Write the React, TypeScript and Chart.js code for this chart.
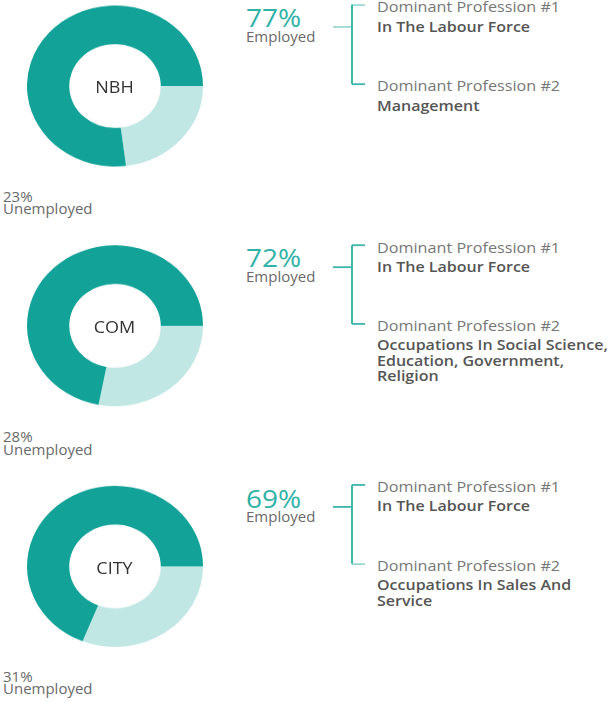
import React, { useEffect, useRef } from "react";
import { Chart, registerables } from "chart.js";

Chart.register(...registerables);

// ---- data ----
const regions = ["NBH", "COM", "CITY"];
const employedPct = [77, 72, 69];
const unemployedPct = [23, 28, 31];
const sliceLabels = ["Unemployed", "Employed"];
const profession1Title = "Dominant Profession #1";
const profession2Title = "Dominant Profession #2";
const profession1 = ["In The Labour Force", "In The Labour Force", "In The Labour Force"];
const profession2 = [
  ["Management"],
  ["Occupations In Social Science,", "Education, Government,", "Religion"],
  ["Occupations In Sales And", "Service"],
];

// ---- style ----
const DARK = "#13a298";
const LIGHT = "#c1e7e5";
const TEAL_TEXT = "#2fb2a8";
const LINE = "#3db6ac";
const GRAY = "#6a6a6a";
const GRAY_LIGHT = "#777777";
const GRAY_DARK = "#555555";
const FONT = '"Open Sans", sans-serif';
const SY = 0.915; // vertical squash of the reference
const ROW = 240;

function Donut({ label, values, left, top }: { label: string; values: number[]; left: number; top: number }) {
  const ref = useRef<HTMLCanvasElement>(null);
  useEffect(() => {
    const chart = new Chart(ref.current!, {
      type: "doughnut",
      data: {
        labels: sliceLabels,
        datasets: [{ data: values, backgroundColor: [LIGHT, DARK], borderWidth: 0 }],
      },
      options: {
        responsive: false,
        animation: false,
        rotation: 90,
        cutout: "52%",
        events: [],
        layout: { padding: 0 },
        plugins: { legend: { display: false }, tooltip: { enabled: false } },
      },
    });
    return () => chart.destroy();
  }, []);
  return (
    <canvas
      ref={ref}
      width={176}
      height={176}
      aria-label={label}
      style={{ position: "absolute", left, top, width: 176, height: 176 }}
    />
  );
}

function T({
  x, base, size, weight = 400, color, lines, lh, width, align,
}: {
  x: number; base: number; size: number; weight?: number; color: string; lines: string[]; lh?: number; width?: number; align?: "left" | "center";
}) {
  const L = lh ?? size;
  const off = (L - 1.362 * size) / 2 + 1.069 * size;
  return (
    <div
      style={{
        position: "absolute",
        left: x,
        top: base / SY - off,
        width,
        textAlign: align ?? "left",
        fontSize: size,
        lineHeight: L + "px",
        fontWeight: weight,
        color,
        whiteSpace: "nowrap",
        fontFamily: FONT,
      }}
    >
      {lines.map((l, i) => (
        <div key={i}>{l}</div>
      ))}
    </div>
  );
}

function Line({ x1, y1, x2, y2 }: { x1: number; y1: number; x2: number; y2: number }) {
  const t = 1.5;
  if (y1 === y2) {
    return <div style={{ position: "absolute", left: x1, top: y1 / SY - t / SY / 2, width: x2 - x1, height: t / SY, background: LINE }} />;
  }
  return <div style={{ position: "absolute", left: x1 - t / 2, top: y1 / SY, width: t, height: (y2 - y1) / SY, background: LINE }} />;
}

function Row({ i }: { i: number }) {
  const o = i * ROW;
  const cy = 86 + o;
  return (
    <>
      <Donut label={regions[i]} values={[unemployedPct[i], employedPct[i]]} left={26.5} top={cy / SY - 88} />
      <T x={26.5} width={176} align="center" base={cy + 7.5} size={18} color="#333333" lines={[regions[i]]} />
      <T x={3} base={202.5 + o} size={15} color={GRAY} lines={[unemployedPct[i] + "%", "Unemployed"]} lh={12.5 / SY} />
      <T x={246} base={27.5 + o} size={28} color={TEAL_TEXT} lines={[employedPct[i] + "%"]} lh={22} />
      <T x={246} base={42.5 + o} size={15} color={GRAY} lines={["Employed"]} lh={13} />
      <Line x1={333} y1={27 + o} x2={352} y2={27 + o} />
      <Line x1={352} y1={5 + o} x2={352} y2={84 + o} />
      <Line x1={352} y1={5 + o} x2={365} y2={5 + o} />
      <Line x1={352} y1={84 + o} x2={365} y2={84 + o} />
      <T x={377} base={13 + o} size={16.2} color={GRAY_LIGHT} lines={[profession1Title]} lh={13} />
      <T x={377} base={32 + o} size={16} weight={600} color={GRAY_DARK} lines={[profession1[i]]} lh={14} />
      <T x={377} base={91.7 + o} size={16.2} color={GRAY_LIGHT} lines={[profession2Title]} lh={13} />
      <T x={377} base={111 + o} size={16} weight={600} color={GRAY_DARK} lines={profession2[i]} lh={15 / SY} />
    </>
  );
}

export default function App() {
  return (
    <div
      style={{
        position: "absolute",
        left: 0,
        top: 0,
        width: 611,
        height: 702 / SY,
        background: "#ffffff",
        transform: `scaleY(${SY})`,
        transformOrigin: "0 0",
        overflow: "hidden",
      }}
    >
      {regions.map((_, i) => (
        <Row key={i} i={i} />
      ))}
    </div>
  );
}
